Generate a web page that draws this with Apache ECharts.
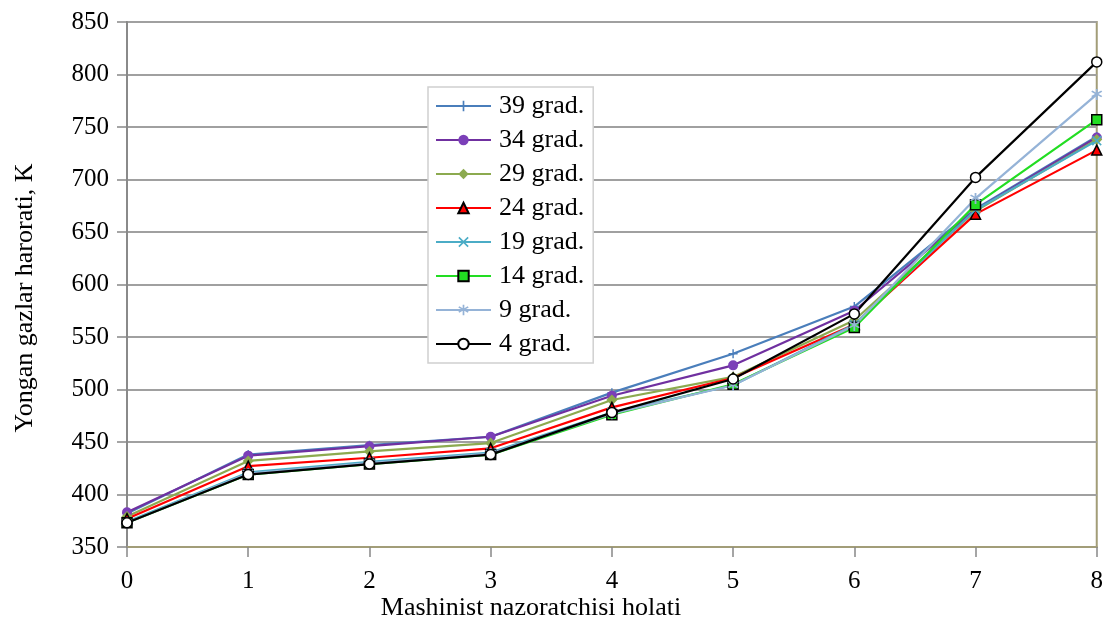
<!DOCTYPE html>
<html>
<head>
<meta charset="utf-8">
<script src="https://cdn.jsdelivr.net/npm/echarts@6/dist/echarts.min.js"></script>
<style>
  html, body { margin: 0; padding: 0; background: #fff; }
  #chart { width: 1106px; height: 621px; }
</style>
</head>
<body>
<div id="chart"></div>
<script>
// Controller position (x) vs exhaust gas temperature (K), one line per ambient temperature
const positions = [0, 1, 2, 3, 4, 5, 6, 7, 8];
const seriesNames = ['39 grad.', '34 grad.', '29 grad.', '24 grad.', '19 grad.', '14 grad.', '9 grad.', '4 grad.'];
const t39 = [382, 438, 447, 455, 497, 534, 579, 672, 741];
const t34 = [383, 437, 446, 455, 494, 523, 575, 671, 740];
const t29 = [379, 432, 441, 449, 490, 512, 566, 670, 738];
const t24 = [377, 427, 435, 444, 483, 511, 562, 667, 728];
const t19 = [374, 421, 431, 440, 478, 504, 562, 671, 737];
const t14 = [373, 419, 429, 438, 476, 505, 559, 676, 757];
const t9  = [373, 420, 430, 439, 477, 504, 561, 682, 781];
const t4  = [373, 419, 429, 438, 478, 510, 572, 702, 812];
const yTicks = [350, 400, 450, 500, 550, 600, 650, 700, 750, 800, 850];
const xTitle = 'Mashinist nazoratchisi holati';
const yTitle = 'Yongan gazlar harorati, K';

const allValues = [t39, t34, t29, t24, t19, t14, t9, t4];

const plusPath = 'path://M4.2,0H5.8V4.2H10V5.8H5.8V10H4.2V5.8H0V4.2H4.2Z';
const crossPath = 'path://M1.1,0L5,3.9L8.9,0L10,1.1L6.1,5L10,8.9L8.9,10L5,6.1L1.1,10L0,8.9L3.9,5L0,1.1Z';
const starPath = 'path://M4.3,0H5.7V3.3L8.5,1.4L9.3,2.6L6.3,4.5L9.3,6.4L8.5,7.6L5.7,5.7V10H4.3V5.7L1.5,7.6L0.7,6.4L3.7,4.5L0.7,2.6L1.5,1.4L4.3,3.3Z';

const styles = [
  { color: '#4a7ebb', symbol: plusPath, size: 9, fill: '#4a7ebb', border: '#4a7ebb', bw: 0 },
  { color: '#7030a0', symbol: 'circle', size: 10, fill: '#7b3fb8', border: '#7b3fb8', bw: 0 },
  { color: '#8caa4f', symbol: 'diamond', size: 11, fill: '#8caa4f', border: '#8caa4f', bw: 0 },
  { color: '#ff0000', symbol: 'triangle', size: 10, fill: '#ff0000', border: '#000', bw: 1.5 },
  { color: '#4bacc6', symbol: crossPath, size: 10, fill: '#4bacc6', border: '#4bacc6', bw: 0 },
  { color: '#22dd22', symbol: 'rect', size: 10, fill: '#22dd22', border: '#000', bw: 1.5 },
  { color: '#95b3d7', symbol: starPath, size: 11, fill: '#95b3d7', border: '#95b3d7', bw: 0 },
  { color: '#000000', symbol: 'circle', size: 10, fill: '#ffffff', border: '#000', bw: 1.5 }
];

const font = 'Liberation Serif, Times New Roman, serif';

const series = seriesNames.map((name, i) => ({
  name: name,
  type: 'line',
  data: positions.map((x, j) => [x, allValues[i][j]]),
  symbol: styles[i].symbol,
  symbolSize: styles[i].size,
  showSymbol: true,
  lineStyle: { color: styles[i].color, width: 2.2 },
  itemStyle: { color: styles[i].fill, borderColor: styles[i].border, borderWidth: styles[i].bw },
  emphasis: { disabled: true },
  animation: false
}));

const chart = echarts.init(document.getElementById('chart'), null, { renderer: 'canvas' });
chart.setOption({
  backgroundColor: '#ffffff',
  animation: false,
  grid: {
    left: 127, right: 6, top: 22, bottom: 74,
    show: true, borderColor: '#a29d78', borderWidth: 2, backgroundColor: 'transparent'
  },
  legend: {
    orient: 'vertical',
    left: 428, top: 87,
    padding: [6, 9, 6, 7],
    itemGap: 8,
    itemWidth: 55,
    itemHeight: 13,
    backgroundColor: '#ffffff',
    borderColor: '#d0d0d0',
    borderWidth: 1.5,
    textStyle: { fontFamily: font, fontSize: 26, color: '#000', padding: [0, 0, 0, 3] },
    data: seriesNames
  },
  graphic: [
    {
      type: 'text', x: 531, y: 608,
      style: { text: xTitle, font: '26px ' + font, fill: '#000', textAlign: 'center', textVerticalAlign: 'middle' }
    },
    {
      type: 'text', x: 25, y: 298, rotation: Math.PI / 2,
      style: { text: yTitle, font: '26px ' + font, fill: '#000', textAlign: 'center', textVerticalAlign: 'middle' }
    }
  ],
  xAxis: {
    type: 'value',
    min: 0, max: 8, interval: 1,
    axisLine: { show: true, lineStyle: { color: '#a29d78', width: 2 } },
    axisTick: { show: true, length: 10, lineStyle: { color: '#888', width: 1.5 } },
    axisLabel: { fontFamily: font, fontSize: 25, color: '#000', margin: 22 },
    splitLine: { show: false }
  },
  yAxis: {
    type: 'value',
    min: yTicks[0], max: yTicks[yTicks.length - 1], interval: 50,
    axisLine: { show: true, lineStyle: { color: '#8a8a8a', width: 2 } },
    axisTick: { show: true, length: 10, lineStyle: { color: '#888', width: 1.5 } },
    axisLabel: { fontFamily: font, fontSize: 25, color: '#000', margin: 18 },
    splitLine: { show: true, lineStyle: { color: '#a0a0a0', width: 2 } }
  },
  series: series
});
</script>
</body>
</html>
